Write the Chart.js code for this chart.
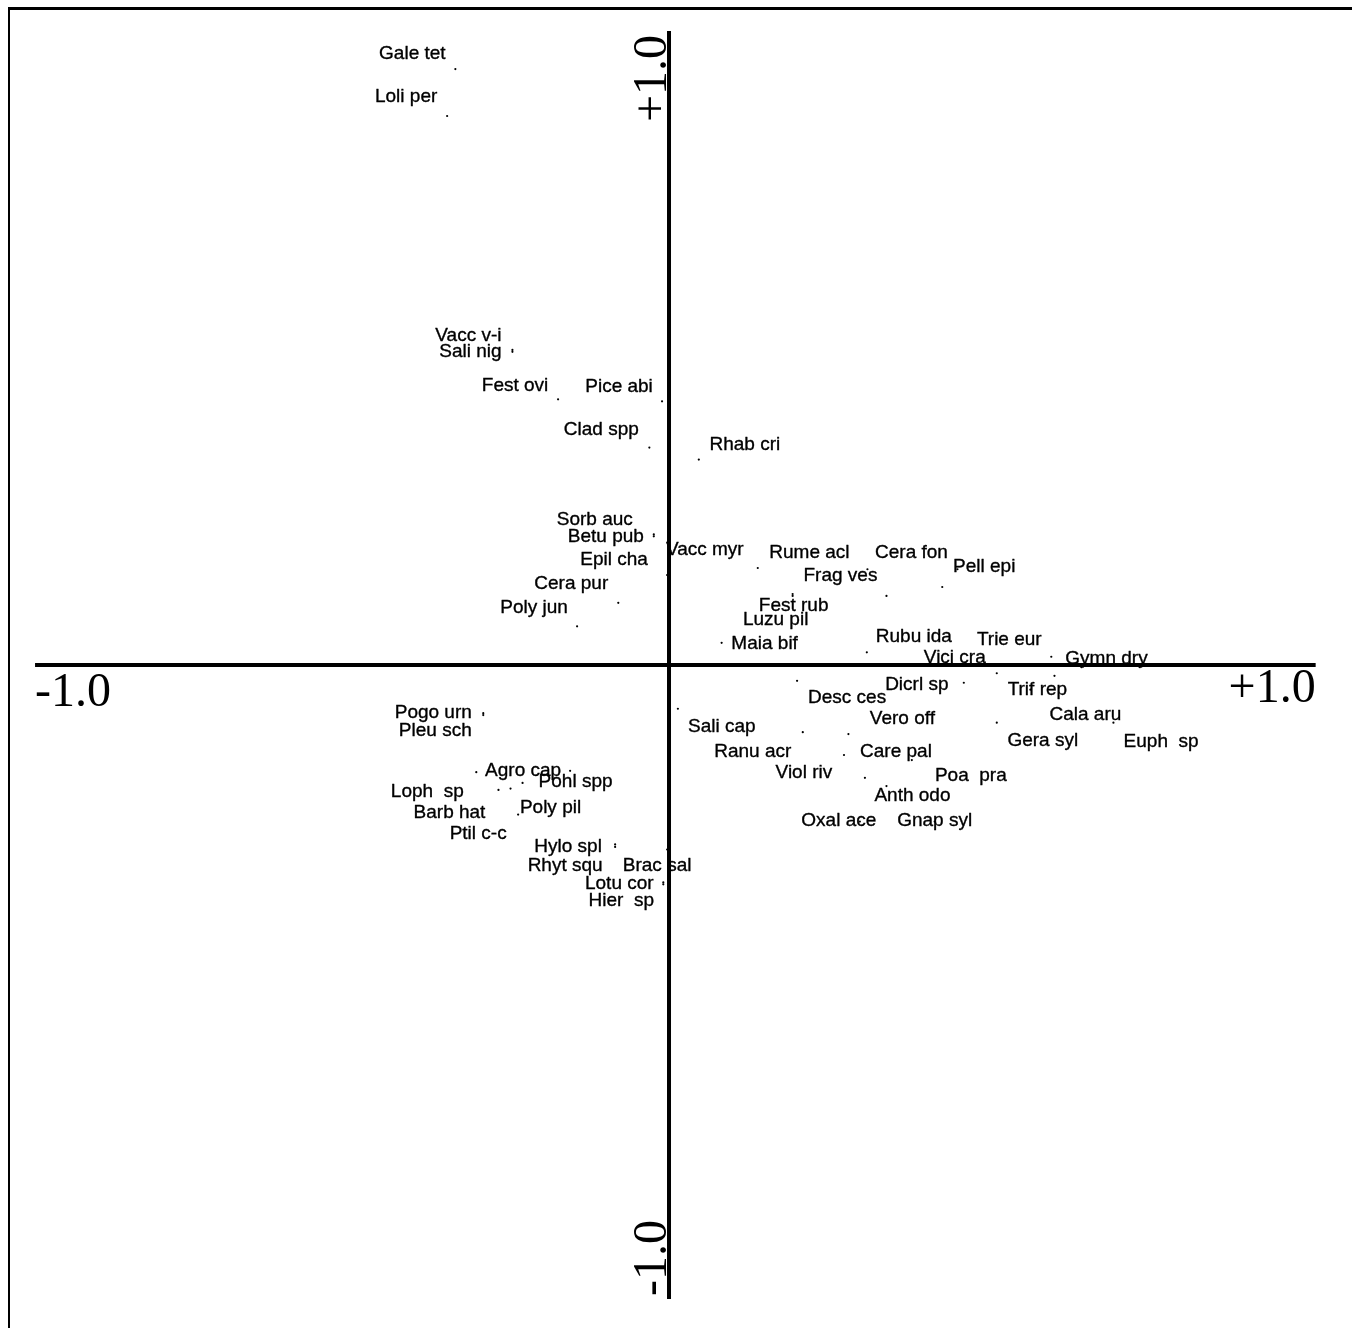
<!DOCTYPE html>
<html>
<head>
<meta charset="utf-8">
<title>Species ordination diagram</title>
<script src="https://cdn.jsdelivr.net/npm/chart.js@4/dist/chart.umd.min.js"></script>
<style>
  html, body { margin: 0; padding: 0; background: #fff; }
  #wrap { position: relative; width: 1352px; height: 1328px; overflow: hidden; background: #fff; }
  #wrap canvas { position: absolute; left: 0; top: 0; }
  #frame { position: absolute; left: 8px; top: 7px; width: 1400px; height: 1400px;
           border-top: 3px solid #000; border-left: 2px solid #000; pointer-events: none; }
</style>
</head>
<body>
<div id="wrap">
  <canvas id="chart" width="1352" height="1328"></canvas>
  <div id="frame"></div>
</div>
<script>
// Species abbreviations
const species = [
  'Gale tet', 'Loli per', 'Vacc v-i', 'Sali nig', 'Fest ovi', 'Pice abi', 'Clad spp', 'Rhab cri',
  'Sorb auc', 'Betu pub', 'Epil cha', 'Vacc myr', 'Cera pur', 'Poly jun', 'Rume acl', 'Cera fon',
  'Pell epi', 'Frag ves', 'Fest rub', 'Luzu pil', 'Maia bif', 'Rubu ida', 'Trie eur', 'Vici cra',
  'Gymn dry', 'Dicrl sp', 'Desc ces', 'Trif rep', 'Cala aru', 'Vero off', 'Sali cap', 'Gera syl',
  'Euph  sp', 'Ranu acr', 'Care pal', 'Viol riv', 'Poa  pra', 'Anth odo', 'Oxal ace', 'Gnap syl',
  'Pogo urn', 'Pleu sch', 'Agro cap', 'Pohl spp', 'Loph  sp', 'Barb hat', 'Poly pil', 'Ptil c-c',
  'Hylo spl', 'Rhyt squ', 'Brac sal', 'Lotu cor', 'Hier  sp'
];

// Species scores on the first ordination axis
const axis1 = [
  -0.337, -0.350, -0.247, -0.247, -0.175, -0.011, -0.031, 0.047,
  -0.024, -0.024, -0.003, 0.140, -0.080, -0.145, 0.313, 0.455,
  0.431, 0.343, 0.195, 0.195, 0.083, 0.312, 0.603, 0.517,
  0.608, 0.465, 0.202, 0.570, 0.701, 0.283, 0.014, 0.517,
  0.721, 0.211, 0.276, 0.309, 0.383, 0.343, 0.301, 0.419,
  -0.293, -0.293, -0.156, -0.231, -0.304, -0.269, -0.250, -0.238,
  -0.085, -0.085, -0.003, -0.009, -0.009
];

// Species scores on the second ordination axis
const axis2 = [
  0.940, 0.866, 0.497, 0.494, 0.419, 0.416, 0.343, 0.324,
  0.206, 0.203, 0.142, 0.153, 0.098, 0.061, 0.151, 0.151,
  0.123, 0.109, 0.112, 0.109, 0.035, 0.020, 0.013, -0.013,
  -0.017, -0.028, -0.025, -0.039, -0.091, -0.109, -0.069, -0.091,
  -0.120, -0.106, -0.142, -0.178, -0.150, -0.191, -0.247, -0.247,
  -0.076, -0.079, -0.167, -0.186, -0.169, -0.197, -0.195, -0.236,
  -0.283, -0.287, -0.291, -0.343, -0.346
];

// Axis end labels
const xTickLabels = ['-1.0', '+1.0'];
const yTickLabels = ['-1.0', '+1.0'];

// ---- layout ----
const PX_PER_UNIT = 635;
const ORIGIN = { x: 669, y: 665 };
const W = 1352, H = 1328;

// label placement relative to each species point (pixels, label centre)
const labelOffset = {
  'Gale tet': [-43, -16], 'Loli per': [-41, -20], 'Vacc v-i': [-44, -15], 'Sali nig': [-42, -1],
  'Fest ovi': [-43, -15], 'Pice abi': [-43, -16], 'Clad spp': [-48, -19], 'Rhab cri': [46, -16],
  'Sorb auc': [-59, -16], 'Betu pub': [-48, -1], 'Epil cha': [-53, -16], 'Vacc myr': [-53, -19],
  'Cera pur': [-47, -20], 'Poly jun': [-43, -20], 'Rume acl': [-58, -18], 'Cera fon': [-46, -18],
  'Pell epi': [42, -21], 'Frag ves': [-46, -21], 'Fest rub': [1, 11], 'Luzu pil': [-17, 23],
  'Maia bif': [43, 0], 'Rubu ida': [47, -17], 'Trie eur': [-42, -18], 'Vici cra': [-42, -16],
  'Gymn dry': [52, -18], 'Dicrl sp': [-47, 1], 'Desc ces': [50, 16], 'Trif rep': [7, -1],
  'Cala aru': [-28, -9], 'Vero off': [54, -16], 'Sali cap': [44, 17], 'Gera syl': [46, 17],
  'Euph  sp': [35, 0], 'Ranu acr': [-50, 19], 'Care pal': [52, -4], 'Viol riv': [-61, -6],
  'Poa  pra': [59, 15], 'Anth odo': [26, 9], 'Oxal ace': [-21, -2], 'Gnap syl': [0, -2],
  'Pogo urn': [-50, -1], 'Pleu sch': [-48, 15], 'Agro cap': [-47, -1], 'Pohl spp': [53, -2],
  'Loph  sp': [-49, 19], 'Barb hat': [-49, 22], 'Poly pil': [40, 18], 'Ptil c-c': [-40, 18],
  'Hylo spl': [-47, 1], 'Rhyt squ': [-50, 18], 'Brac sal': [-10, 15], 'Lotu cor': [-44, 0],
  'Hier  sp': [-42, 15]
};

const points = species.map((s, i) => ({ x: axis1[i], y: axis2[i] }));

const speciesLabels = {
  id: 'speciesLabels',
  afterDatasetsDraw(chart) {
    const ctx = chart.ctx;
    const meta = chart.getDatasetMeta(2);
    ctx.save();
    ctx.font = '19px "Liberation Sans", Arial, Helvetica, sans-serif';
    ctx.fillStyle = '#000';
    ctx.strokeStyle = '#000';
    ctx.lineWidth = 0.35;
    ctx.lineJoin = 'round';
    ctx.textAlign = 'center';
    ctx.textBaseline = 'middle';
    meta.data.forEach((pt, i) => {
      const off = labelOffset[species[i]] || [0, -14];
      const tx = pt.x + off[0], ty = pt.y + off[1] + 1;
      ctx.fillText(species[i], tx, ty);
      ctx.strokeText(species[i], tx, ty);
    });
    ctx.restore();
  }
};

const axisNumbers = {
  id: 'axisNumbers',
  afterDatasetsDraw(chart) {
    const { ctx, scales: { x, y } } = chart;
    const x0 = x.getPixelForValue(0);
    const y0 = y.getPixelForValue(0);
    ctx.save();
    ctx.font = '48px "Liberation Serif", "Times New Roman", Times, serif';
    ctx.fillStyle = '#000';
    ctx.textBaseline = 'alphabetic';
    // horizontal axis ends
    ctx.textAlign = 'left';
    ctx.fillText(xTickLabels[0], x.getPixelForValue(-1), y0 + 41);
    ctx.textAlign = 'right';
    ctx.fillText(xTickLabels[1], x.getPixelForValue(1.02), y0 + 37);
    // vertical axis ends, written bottom-to-top beside the axis
    ctx.save();
    ctx.translate(x0 - 3, y.getPixelForValue(1) + 4);
    ctx.rotate(-Math.PI / 2);
    ctx.textAlign = 'right';
    ctx.fillText(yTickLabels[1], 0, 0);
    ctx.restore();
    ctx.save();
    ctx.translate(x0 - 3, y.getPixelForValue(-1) - 3);
    ctx.rotate(-Math.PI / 2);
    ctx.textAlign = 'left';
    ctx.fillText(yTickLabels[0], 0, 0);
    ctx.restore();
    ctx.restore();
  }
};

const axisLine = {
  showLine: true, pointRadius: 0, borderColor: '#000', backgroundColor: '#000',
  borderWidth: 4, borderCapStyle: 'butt', fill: false
};

new Chart(document.getElementById('chart'), {
  type: 'scatter',
  data: {
    datasets: [
      Object.assign({ label: 'axis 1', data: [{ x: -1, y: 0 }, { x: 1.02, y: 0 }] }, axisLine),
      Object.assign({ label: 'axis 2', data: [{ x: 0, y: -1 }, { x: 0, y: 1 }] }, axisLine),
      {
        label: 'species',
        data: points,
        pointRadius: 1.1,
        pointHoverRadius: 1.1,
        pointBorderWidth: 0,
        backgroundColor: '#000',
        borderColor: '#000'
      }
    ]
  },
  options: {
    responsive: false,
    animation: false,
    devicePixelRatio: 1,
    layout: { padding: 0 },
    plugins: { legend: { display: false }, tooltip: { enabled: false }, title: { display: false } },
    events: [],
    scales: {
      x: { type: 'linear', display: false, min: -ORIGIN.x / PX_PER_UNIT, max: (W - ORIGIN.x) / PX_PER_UNIT },
      y: { type: 'linear', display: false, min: -(H - ORIGIN.y) / PX_PER_UNIT, max: ORIGIN.y / PX_PER_UNIT }
    }
  },
  plugins: [speciesLabels, axisNumbers]
});
</script>
</body>
</html>
